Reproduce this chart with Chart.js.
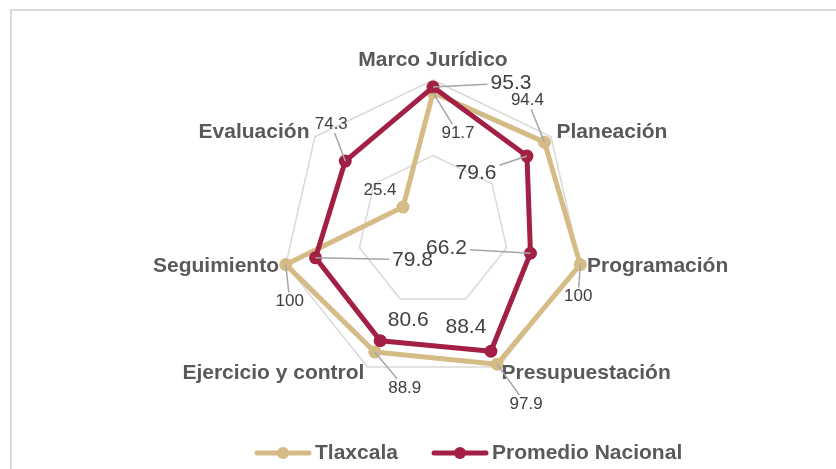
<!DOCTYPE html>
<html lang="es">
<head>
<meta charset="utf-8">
<title>Tlaxcala vs Promedio Nacional</title>
<script src="https://cdn.jsdelivr.net/npm/chart.js@4/dist/chart.umd.min.js"></script>
<style>
    body { margin: 0; background: #fff; }
    #grafica { display: block; }
</style>
</head>
<body>
<canvas id="grafica" width="836" height="469"></canvas>
<script>
// datos
var secciones = ['Marco Jurídico', 'Planeación', 'Programación', 'Presupuestación', 'Ejercicio y control', 'Seguimiento', 'Evaluación'];
var tlaxcala = [91.7, 94.4, 100, 97.9, 88.9, 100, 25.4];
var promedioNacional = [95.3, 79.6, 66.2, 88.4, 80.6, 79.8, 74.3];
var nombresSeries = ['Tlaxcala', 'Promedio Nacional'];
var ticksEscala = [0, 50, 100];

// etiquetas de datos: desplazamiento desde el punto, tamaño y linea guia
var tlaxDx = [25, -17, -2, 29, 30, 4, -23];
var tlaxDy = [41, -42, 32, 40, 36, 37, -17];
var tlaxTam = [17, 17, 17, 17, 17, 17, 17];
var tlaxGuia = [true, true, true, true, true, true, false];
var promDx = [78, -51, -84, -25, 28, 97, -14];
var promDy = [-4, 17, -5, -24, -20, 2, -37];
var promTam = [21, 21, 21, 21, 21, 21, 17];
var promGuia = [true, true, true, false, false, true, true];

var colores = ['#D5BB86', '#A31F43'];
var fuente = '"Liberation Sans", Arial, sans-serif';

var app = {
    chart: '',
    init: function () {
        var ctx = document.getElementById('grafica');
        app.chart = new Chart(ctx, {
            type: 'radar',
            data: {
                labels: secciones,
                datasets: [{
                    label: nombresSeries[0],
                    data: tlaxcala,
                    borderColor: colores[0],
                    backgroundColor: colores[0],
                    pointBackgroundColor: colores[0],
                    pointBorderColor: colores[0],
                    borderWidth: 5,
                    pointRadius: 6.5,
                    pointBorderWidth: 0,
                    borderJoinStyle: 'round',
                    fill: false,
                    order: 1,
                    etiquetas: { dx: tlaxDx, dy: tlaxDy, tam: tlaxTam, guia: tlaxGuia }
                }, {
                    label: nombresSeries[1],
                    data: promedioNacional,
                    borderColor: colores[1],
                    backgroundColor: colores[1],
                    pointBackgroundColor: colores[1],
                    pointBorderColor: colores[1],
                    borderWidth: 5,
                    pointRadius: 6.5,
                    pointBorderWidth: 0,
                    borderJoinStyle: 'round',
                    fill: false,
                    order: 0,
                    etiquetas: { dx: promDx, dy: promDy, tam: promTam, guia: promGuia }
                }]
            },
            options: {
                responsive: false,
                animation: false,
                layout: {
                    padding: { top: 80, bottom: 87, left: 282, right: 252 }
                },
                plugins: {
                    legend: { display: false },
                    tooltip: { enabled: false },
                    title: { display: false }
                },
                scales: {
                    r: {
                        min: ticksEscala[0],
                        max: ticksEscala[ticksEscala.length - 1],
                        ticks: { display: false, stepSize: ticksEscala[1] - ticksEscala[0] },
                        grid: { color: '#D9D9D9', lineWidth: 1.5 },
                        angleLines: { display: false },
                        pointLabels: { display: false }
                    }
                }
            },
            plugins: [app.plugin]
        });
    },
    plugin: {
        id: 'extras',
        beforeDraw: function (chart) {
            var c = chart.ctx;
            c.save();
            c.strokeStyle = '#D9D9D9';
            c.lineWidth = 2;
            c.beginPath();
            c.moveTo(11, chart.height + 5);
            c.lineTo(11, 10);
            c.lineTo(chart.width + 5, 10);
            c.stroke();
            c.restore();
        },
        afterDatasetsDraw: function (chart) {
            var c = chart.ctx;
            var escala = chart.scales.r;
            c.save();
            // nombres de las secciones
            c.font = 'bold 21px ' + fuente;
            c.fillStyle = '#595959';
            secciones.forEach(function (txt, i) {
                var p;
                if (i === 0) {
                    p = escala.getPointPosition(i, escala.drawingArea + 20);
                    c.textAlign = 'center';
                } else {
                    p = escala.getPointPosition(i, escala.drawingArea + 7);
                    c.textAlign = i <= 3 ? 'left' : 'right';
                }
                c.textBaseline = 'middle';
                c.fillText(txt, p.x, p.y);
            });
            // etiquetas de datos con lineas guia
            chart.data.datasets.forEach(function (ds, d) {
                var meta = chart.getDatasetMeta(d);
                var et = ds.etiquetas;
                meta.data.forEach(function (pt, i) {
                    var txt = ds.data[i].toFixed(1).replace('.0', '');
                    var tx = pt.x + et.dx[i];
                    var ty = pt.y + et.dy[i];
                    c.font = et.tam[i] + 'px ' + fuente;
                    if (et.guia[i]) {
                        var w = c.measureText(txt).width / 2 + 3;
                        var h = et.tam[i] * 0.36 + 3;
                        var vx = pt.x - tx, vy = pt.y - ty;
                        var t = Math.min(vx !== 0 ? w / Math.abs(vx) : 99, vy !== 0 ? h / Math.abs(vy) : 99);
                        c.strokeStyle = '#A6A6A6';
                        c.lineWidth = 1.5;
                        c.beginPath();
                        c.moveTo(pt.x, pt.y);
                        c.lineTo(tx + vx * t, ty + vy * t);
                        c.stroke();
                    }
                    c.fillStyle = '#404040';
                    c.textAlign = 'center';
                    c.textBaseline = 'middle';
                    c.fillText(txt, tx, ty);
                });
            });
            c.restore();
        },
        afterDraw: function (chart) {
            // leyenda
            var c = chart.ctx;
            var xs = [255, 432];
            var y = 453;
            c.save();
            chart.data.datasets.forEach(function (ds, d) {
                c.strokeStyle = colores[d];
                c.fillStyle = colores[d];
                c.lineWidth = 5;
                c.lineCap = 'round';
                c.beginPath();
                c.moveTo(xs[d] + 2, y);
                c.lineTo(xs[d] + 54, y);
                c.stroke();
                c.beginPath();
                c.arc(xs[d] + 28, y, 6, 0, Math.PI * 2);
                c.fill();
                c.font = 'bold 21px ' + fuente;
                c.fillStyle = '#595959';
                c.textAlign = 'left';
                c.textBaseline = 'middle';
                c.fillText(ds.label, xs[d] + 60, y);
            });
            c.restore();
        }
    }
};

app.init();
</script>
</body>
</html>
